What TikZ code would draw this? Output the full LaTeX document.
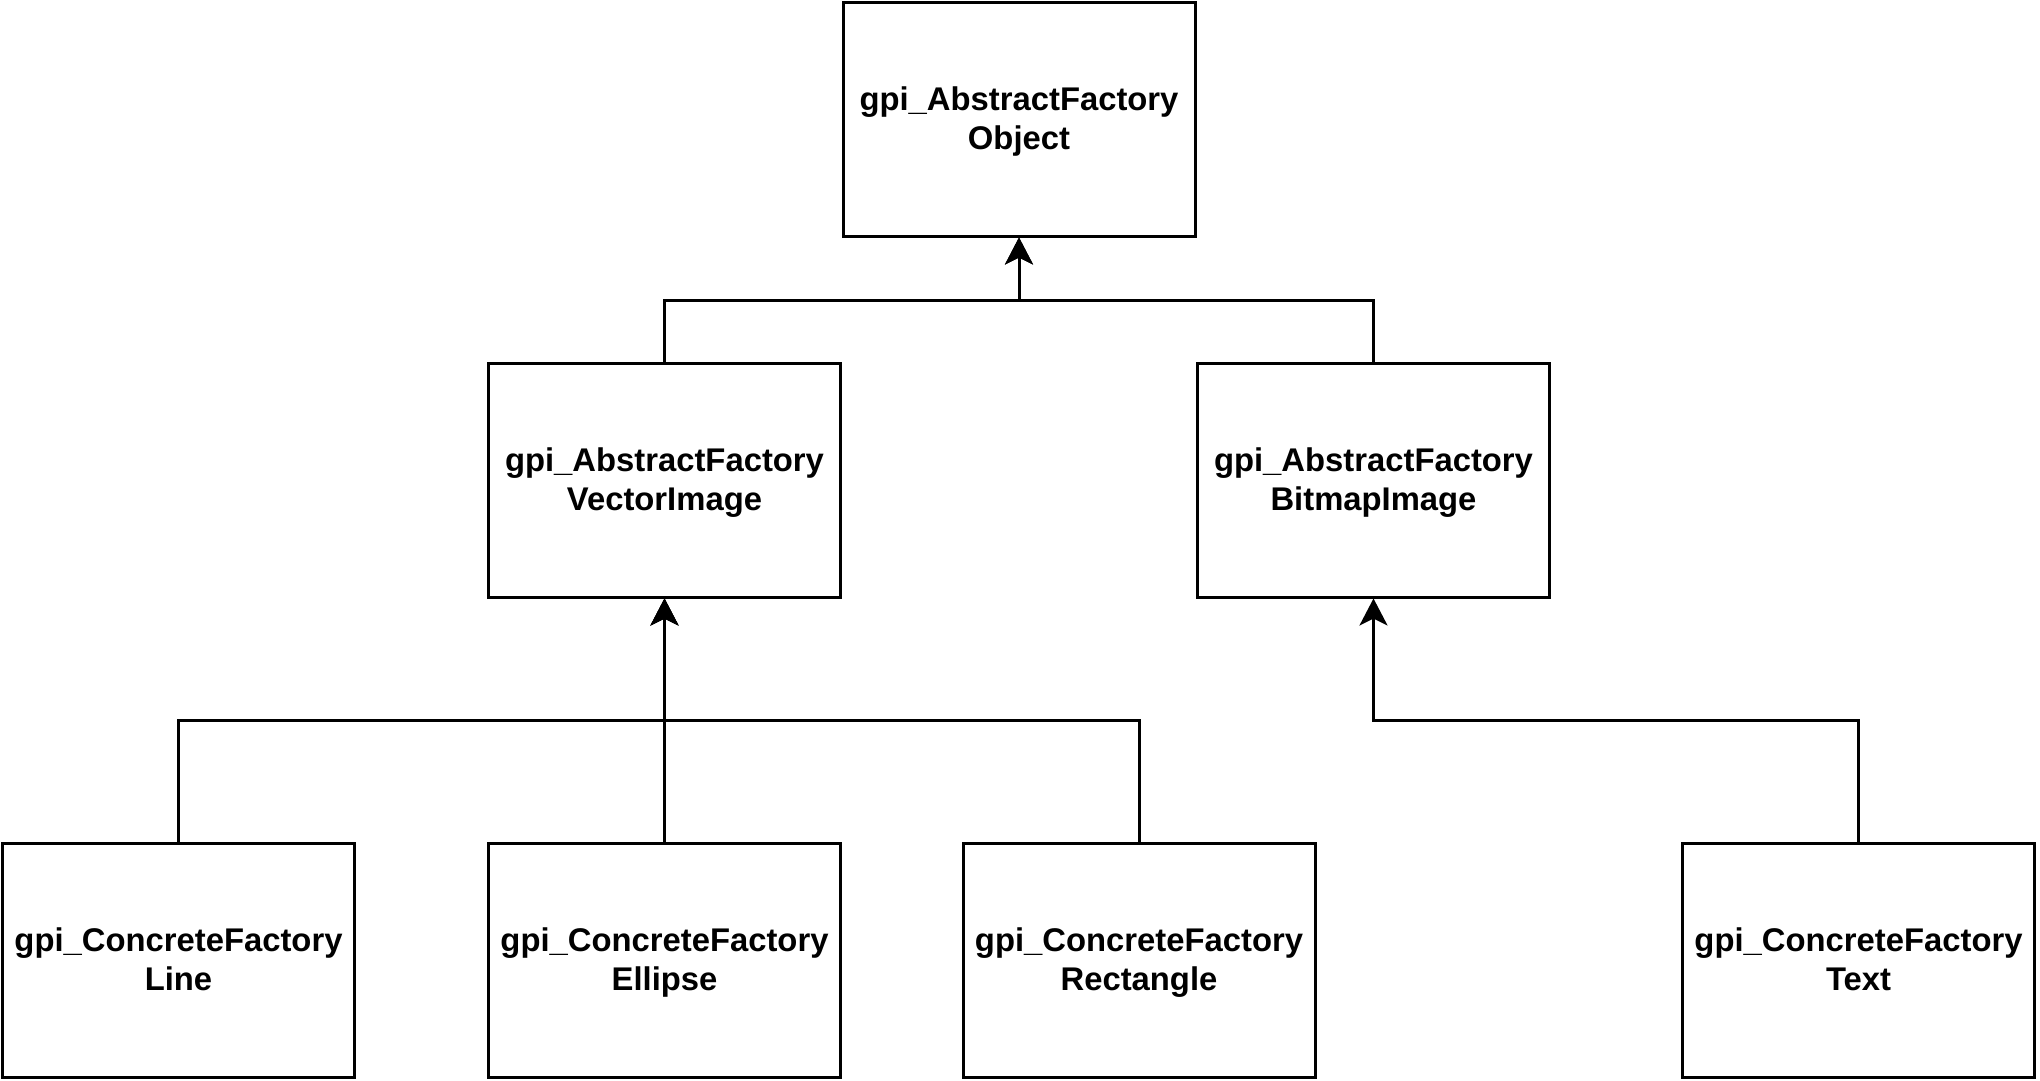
\documentclass[tikz,border=0pt]{standalone}
\usepackage{fontspec}
\setmainfont{Liberation Sans}
\usetikzlibrary{arrows.meta}
\tikzset{
  cls/.style={draw=black, line width=3pt, fill=white, minimum width=352pt, minimum height=234pt,
    inner sep=0pt, align=center, font=\fontsize{32.8}{39.4}\selectfont\bfseries},
  lbl/.style={inner sep=0pt, align=center, font=\fontsize{32.8}{39.4}\selectfont\bfseries, yshift=-3pt},
  inh/.style={draw=black, line width=3pt, -{Stealth[length=27pt, width=28pt, inset=7pt]}},
}
\newcommand{\cl}[2]{\strut #1\\\strut #2}
\begin{document}
\begin{tikzpicture}[x=1pt, y=1pt]
\useasboundingbox (0,0) rectangle (2040,-1080);
\node[cls] (obj) at (1019,-119) {};
\node[cls] (vec) at (664.5,-480) {};
\node[cls] (bmp) at (1373.5,-480) {};
\node[cls] (line) at (178.5,-960) {};
\node[cls] (ell) at (664.5,-960) {};
\node[cls] (rect) at (1139,-960) {};
\node[cls] (txt) at (1858.5,-960) {};
\node[lbl] (objl) at (obj.center) {\cl{gpi\_AbstractFactory}{Object}};
\node[lbl] (vecl) at (vec.center) {\cl{gpi\_AbstractFactory}{VectorImage}};
\node[lbl] (bmpl) at (bmp.center) {\cl{gpi\_AbstractFactory}{BitmapImage}};
\node[lbl] (linel) at (line.center) {\cl{gpi\_ConcreteFactory}{Line}};
\node[lbl] (elll) at (ell.center) {\cl{gpi\_ConcreteFactory}{Ellipse}};
\node[lbl] (rectl) at (rect.center) {\cl{gpi\_ConcreteFactory}{Rectangle}};
\node[lbl] (txtl) at (txt.center) {\cl{gpi\_ConcreteFactory}{Text}};
\coordinate (jtop) at (1019,-300);
\coordinate (jvec) at (664.5,-720);
\coordinate (jbmp) at (1373.5,-720);
\draw[inh] (vec.north) |- (jtop) -- (obj.south);
\draw[inh] (bmp.north) |- (jtop) -- (obj.south);
\draw[inh] (line.north) |- (jvec) -- (vec.south);
\draw[inh] (ell.north) -- (vec.south);
\draw[inh] (rect.north) |- (jvec) -- (vec.south);
\draw[inh] (txt.north) |- (jbmp) -- (bmp.south);
\end{tikzpicture}
\end{document}
